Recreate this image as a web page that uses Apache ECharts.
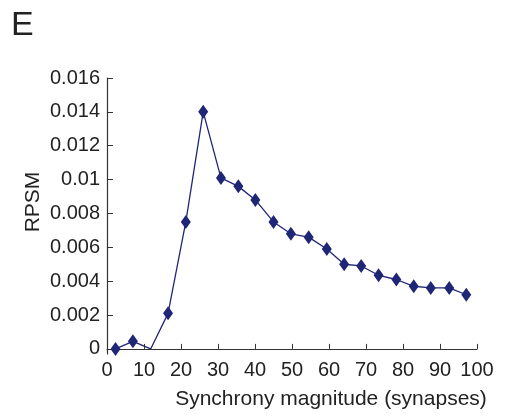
<!DOCTYPE html>
<html>
<head>
<meta charset="utf-8">
<script src="https://cdn.jsdelivr.net/npm/echarts@6/dist/echarts.min.js"></script>
<style>
  html, body { margin: 0; padding: 0; background: #fff; }
  #chart { width: 509px; height: 416px; }
</style>
</head>
<body>
<div id="chart"></div>
<script>
// synchrony magnitude (synapses) and RPSM
const magnitude = [2.3, 7.0, 11.8, 16.5, 21.3, 26.0, 30.8, 35.5, 40.1, 45.0, 49.7,
  54.5, 59.4, 64.1, 68.7, 73.4, 78.2, 82.9, 87.5, 92.5, 97.1]
const rpsm = [0, 0.00045, 0, 0.0021, 0.0075, 0.014, 0.0101, 0.0096, 0.0088, 0.0075, 0.0068,
  0.0066, 0.0059, 0.005, 0.0049, 0.00435, 0.0041, 0.0037, 0.0036, 0.0036, 0.0032]
// points drawn without a marker
const noMarkerAt = [2]
const yTicks = [0, 0.002, 0.004, 0.006, 0.008, 0.01, 0.012, 0.014, 0.016]

const navy = '#1f2676'
const font = 'Liberation Sans, Arial, sans-serif'

const chart = echarts.init(document.getElementById('chart'), null, { renderer: 'canvas' })

const seriesData = magnitude.map((x, i) => {
  const item = { value: [x, rpsm[i]] }
  if (noMarkerAt.includes(i)) item.symbol = 'none'
  return item
})

chart.setOption({
  animation: false,
  backgroundColor: '#fff',
  title: {
    text: 'E',
    left: 6,
    top: 4,
    textStyle: { fontFamily: font, fontSize: 34, fontWeight: 'normal', color: '#222' }
  },
  grid: { left: 107, right: 32, top: 78, bottom: 62 },
  xAxis: {
    type: 'value',
    min: 0,
    max: 100,
    interval: 10,
    name: 'Synchrony magnitude (synapses)',
    nameLocation: 'middle',
    nameGap: 35,
    nameTextStyle: { fontFamily: font, fontSize: 21, color: '#222', padding: [0, 0, 0, 78] },
    axisLine: { show: true, lineStyle: { color: '#333', width: 1.2 } },
    axisTick: { show: true, inside: true, length: 5, lineStyle: { color: '#333' } },
    axisLabel: { fontFamily: font, fontSize: 20, color: '#222', margin: 6 },
    splitLine: { show: false }
  },
  yAxis: {
    type: 'value',
    min: -0.0003,
    max: 0.016,
    name: 'RPSM',
    nameLocation: 'middle',
    nameGap: 63,
    nameMoveOverlap: false,
    nameTextStyle: { fontFamily: font, fontSize: 21, color: '#222', padding: [0, 0, 0, 28] },
    axisLine: { show: true, lineStyle: { color: '#333', width: 1.2 } },
    axisTick: {
      show: true, inside: true, length: 6, customValues: yTicks,
      lineStyle: { color: '#333' }
    },
    axisLabel: {
      fontFamily: font, fontSize: 20, color: '#222', margin: 7,
      customValues: yTicks,
      formatter: v => String(+v.toFixed(3))
    },
    splitLine: { show: false }
  },
  series: [
    {
      type: 'line',
      data: seriesData,
      symbol: 'diamond',
      symbolSize: [10, 14],
      showAllSymbol: true,
      itemStyle: { color: navy },
      lineStyle: { color: navy, width: 1.3 }
    }
  ]
})
</script>
</body>
</html>
